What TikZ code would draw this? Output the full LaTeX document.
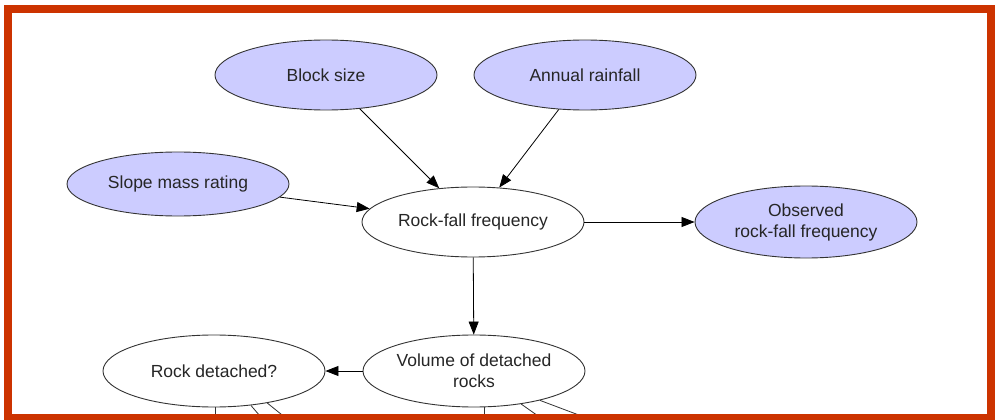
\documentclass[tikz,border=0pt]{standalone}
\usepackage{fontspec}
\setmainfont{Liberation Sans}
\usetikzlibrary{shapes.geometric,arrows.meta}
\definecolor{framered}{HTML}{CC3300}
\definecolor{nodefill}{HTML}{CCCCFF}
\definecolor{edgegray}{HTML}{333333}
\tikzset{
  var/.style={ellipse, draw=edgegray, line width=0.9pt, inner sep=0pt,
    minimum width=222pt, minimum height=70pt, align=center,
    font=\fontsize{17.5pt}{21pt}\selectfont, text=black!85},
  obs/.style={var, fill=nodefill},
  hid/.style={var, fill=white},
  link/.style={draw=black, line width=0.8pt,
    -{Triangle[length=13pt,width=10pt]}},
  stub/.style={draw=edgegray, line width=0.8pt}
}
\begin{document}
\begin{tikzpicture}[x=1pt,y=-1pt]
  \useasboundingbox (0,0) rectangle (997,420);
  \clip (0,0) rectangle (997,420);
  \fill[white] (0,0) rectangle (997,420);

  % observed / input variables
  \node[obs] (block) at (326,75) {Block size};
  \node[obs] (rain) at (585,75) {Annual rainfall};
  \node[obs, minimum height=64pt] (smr) at (178,184) {Slope mass rating};
  \node[obs, minimum height=72pt] (obsfreq) at (806,222) {Observed\\rock-fall frequency};

  % latent variables
  \node[hid] (freq) at (473,222) {Rock-fall frequency};
  \node[hid, minimum height=72pt] (vol) at (474,371) {Volume of detached\\rocks};
  \node[hid, minimum height=72pt] (det) at (214,371) {Rock detached?};

  % causal links
  \draw[link] (block) -- (freq);
  \draw[link] (rain) -- (freq);
  \draw[link] (smr) -- (freq);
  \draw[link] (freq) -- (obsfreq);
  \draw[link] (freq) -- (vol);
  \draw[link] (vol) -- (det);

  % links continuing to lower nodes
  \coordinate (det1) at (215,440);
  \coordinate (det2) at (266,423);
  \coordinate (det3) at (292,423);
  \coordinate (vol1) at (484,440);
  \coordinate (vol2) at (548,423);
  \coordinate (vol3) at (600,423);
  \draw[stub] (det.south -| det1) -- (det1);
  \draw[stub] (det.-43) -- (det2);
  \draw[stub] (det.-31) -- (det3);
  \draw[stub] (vol.south -| vol1) -- (vol1);
  \draw[stub] (vol.-35) -- (vol2);
  \draw[stub] (vol.-24.5) -- (vol3);

  % frame
  \draw[framered, line width=8pt] (8,9) rectangle (991,418);
\end{tikzpicture}
\end{document}
